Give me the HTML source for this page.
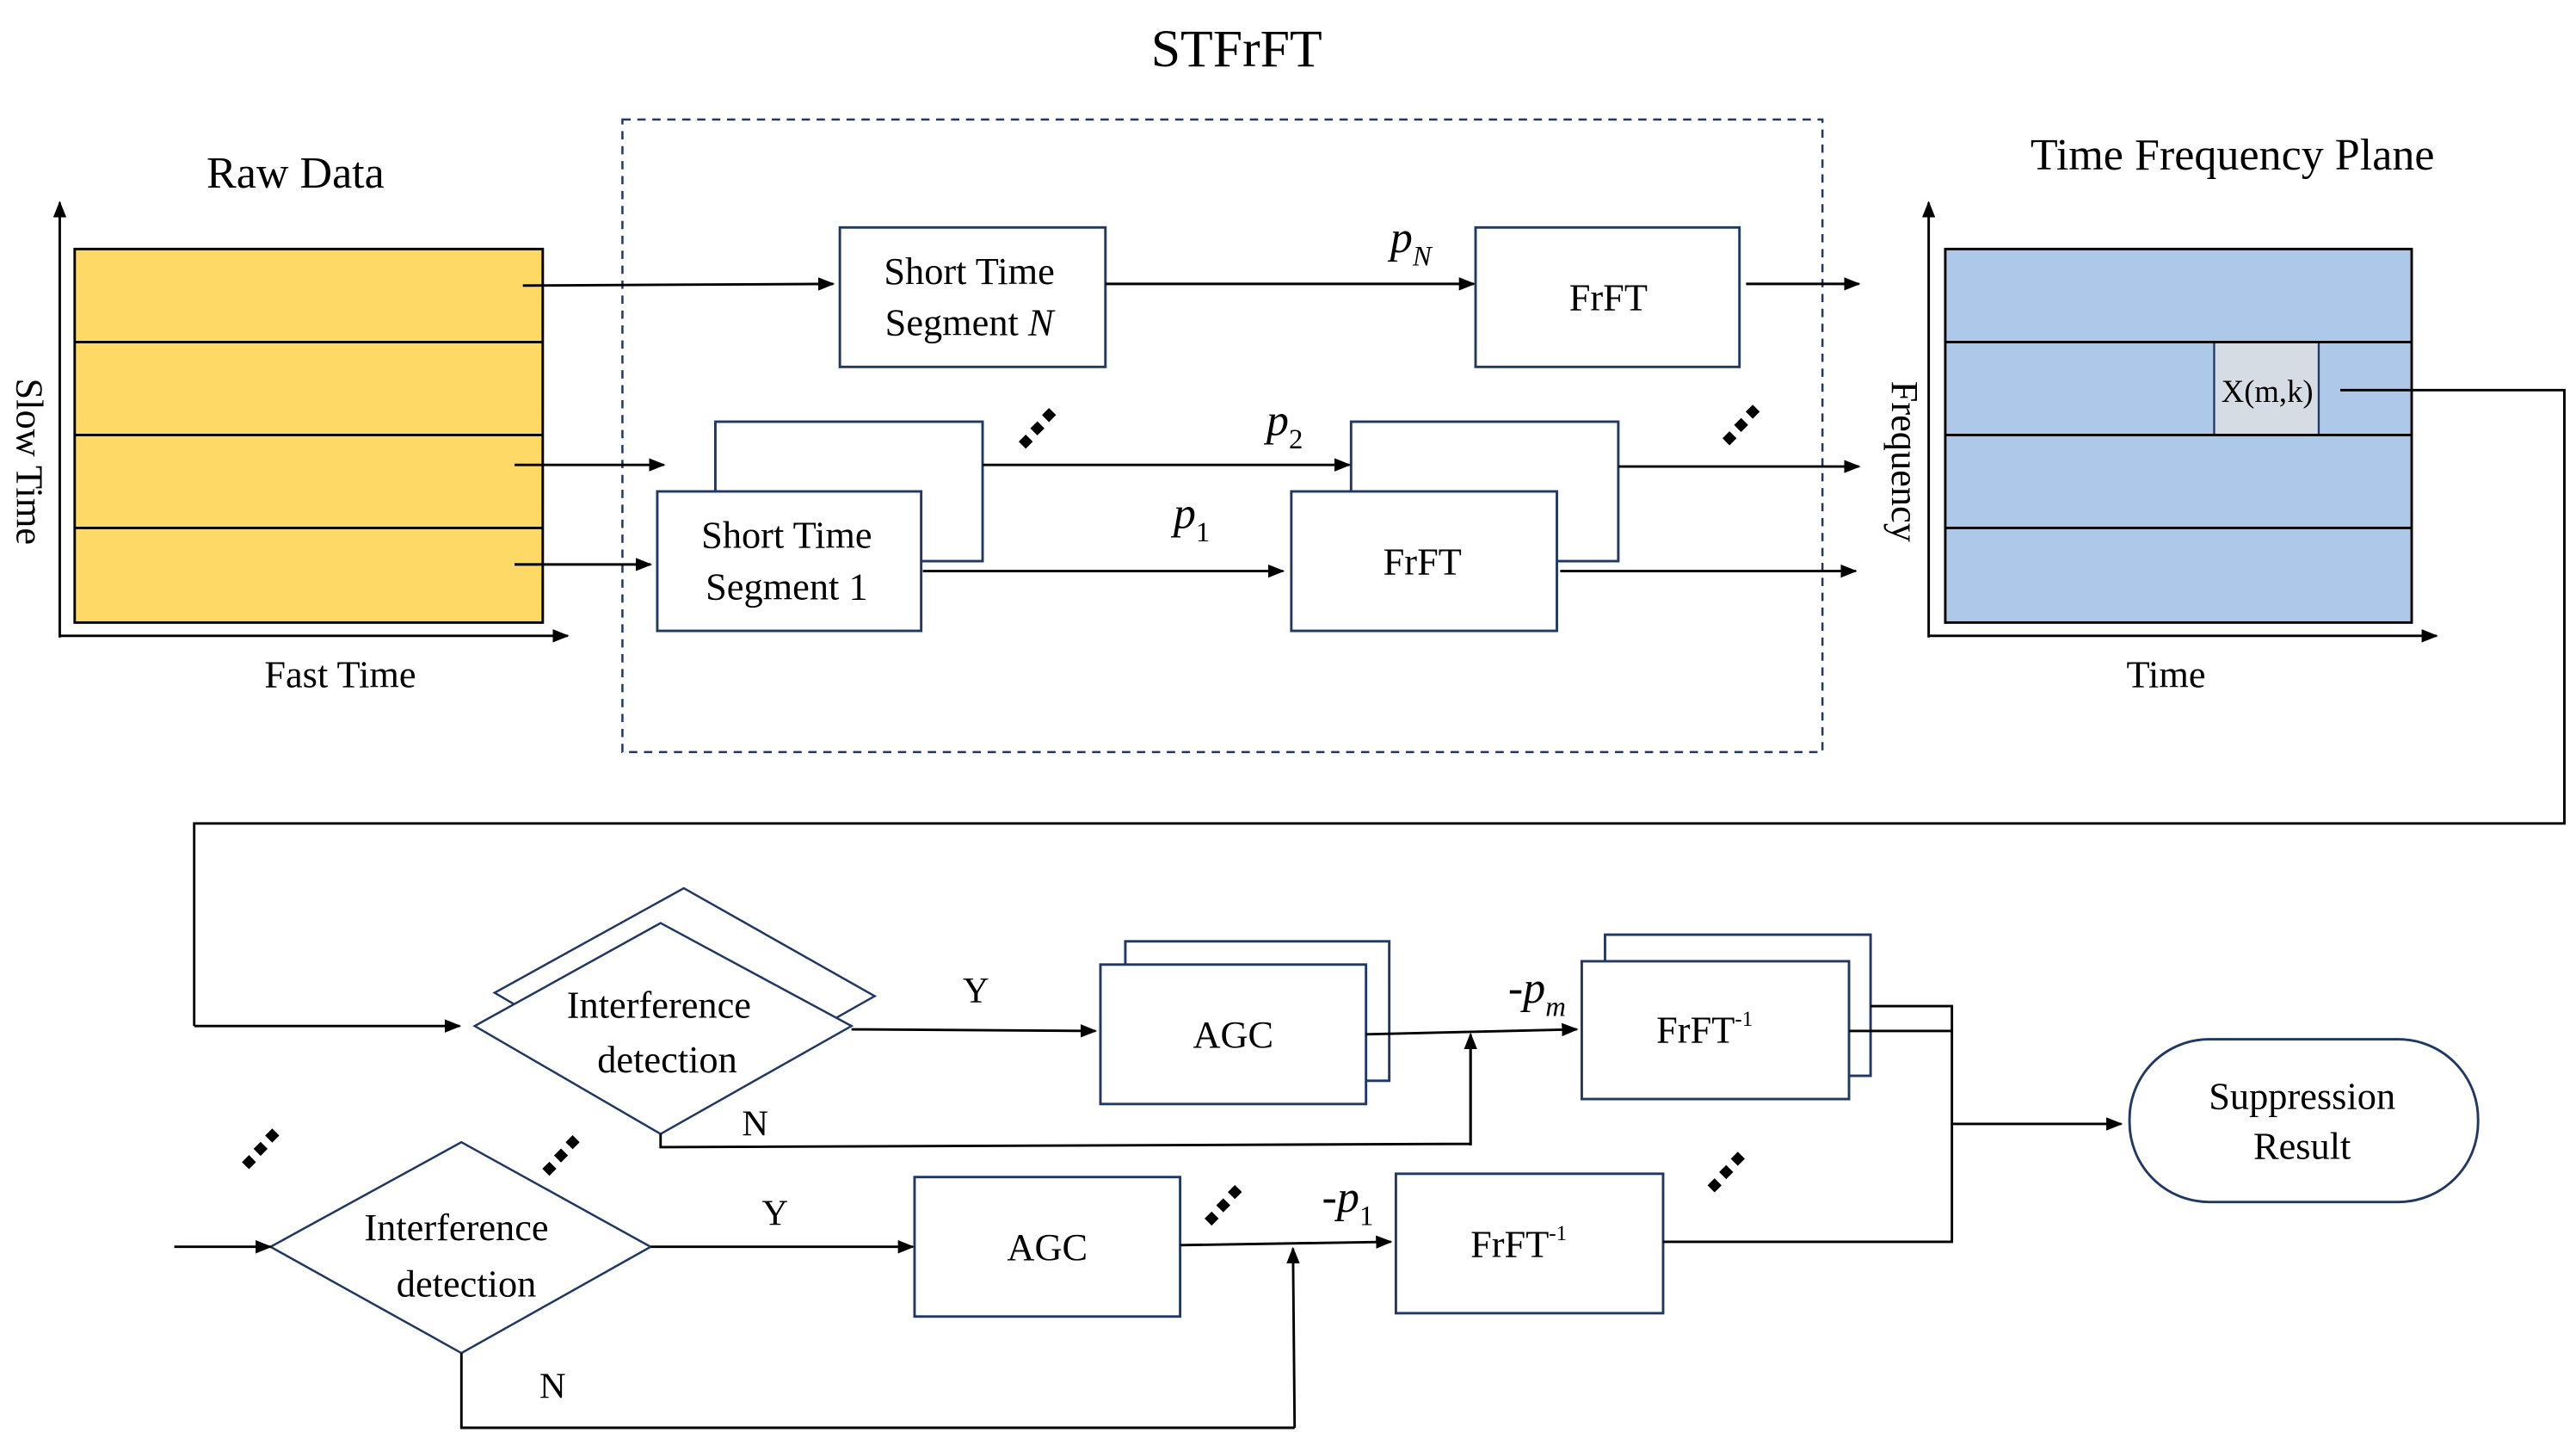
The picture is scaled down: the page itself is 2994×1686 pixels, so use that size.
<!DOCTYPE html>
<html><head><meta charset="utf-8"><style>
html,body{margin:0;padding:0;background:#fff;}
svg{display:block;font-family:"Liberation Serif",serif;}
svg text{font-family:"Liberation Serif",serif;fill:#000;}
</style></head><body>
<svg width="2994" height="1686" viewBox="0 0 1552 874" preserveAspectRatio="none" xmlns="http://www.w3.org/2000/svg" font-family="Liberation Serif, serif">
<defs>
<marker id="a" markerWidth="10" markerHeight="8" refX="9" refY="4" orient="auto" markerUnits="userSpaceOnUse"><path d="M0,0 L10,4 L0,8 z" fill="#000"/></marker>
<g id="dots"><rect x="-3" y="-3" width="6" height="6" transform="rotate(45)" fill="#000"/><rect x="-3" y="-3" width="6" height="6" transform="translate(7,-8) rotate(45)" fill="#000"/><rect x="-3" y="-3" width="6" height="6" transform="translate(14,-16) rotate(45)" fill="#000"/></g>
</defs>
<text x="745" y="40" font-size="32" text-anchor="middle">STFrFT</text>
<text x="178" y="113" font-size="27" text-anchor="middle">Raw Data</text>
<text x="1345" y="102" font-size="27" text-anchor="middle">Time Frequency Plane</text>
<rect x="375" y="72" width="723" height="381" fill="none" stroke="#1F3864" stroke-width="1.3" stroke-dasharray="5,4"/>
<rect x="45" y="150" width="282" height="225" fill="#FFD966" stroke="#000" stroke-width="1.5"/>
<g stroke="#000" stroke-width="1.5"><line x1="45" y1="206" x2="327" y2="206"/><line x1="45" y1="262" x2="327" y2="262"/><line x1="45" y1="318" x2="327" y2="318"/></g>
<g stroke="#000" stroke-width="1.5" fill="none">
<line x1="36" y1="384" x2="36" y2="122" marker-end="url(#a)"/>
<line x1="36" y1="383" x2="342" y2="383" marker-end="url(#a)"/>
<line x1="1162" y1="384" x2="1162" y2="122" marker-end="url(#a)"/>
<line x1="1162" y1="383" x2="1468" y2="383" marker-end="url(#a)"/>
</g>
<text x="0" y="0" font-size="23" text-anchor="middle" transform="translate(10,278) rotate(90)">Slow Time</text>
<text x="205" y="414" font-size="23" text-anchor="middle">Fast Time</text>
<rect x="1172" y="150" width="281" height="225" fill="#ADC8E8" stroke="#000" stroke-width="1.5"/>
<rect x="1334" y="206" width="63" height="56" fill="#D6DCE4" stroke="#1F3864" stroke-width="1.2"/>
<g stroke="#000" stroke-width="1.5"><line x1="1172" y1="206" x2="1453" y2="206"/><line x1="1172" y1="262" x2="1453" y2="262"/><line x1="1172" y1="318" x2="1453" y2="318"/></g>
<text x="1366" y="242" font-size="19" text-anchor="middle">X(m,k)</text>
<text x="0" y="0" font-size="23" text-anchor="middle" transform="translate(1140,278) rotate(90)">Frequency</text>
<text x="1305" y="414" font-size="23" text-anchor="middle">Time</text>
<g fill="#fff" stroke="#1F3864" stroke-width="1.5">
<rect x="506" y="137" width="160" height="84"/>
<rect x="889" y="137" width="159" height="84"/>
<rect x="431" y="254" width="161" height="84"/>
<rect x="396" y="296" width="159" height="84"/>
<rect x="814" y="254" width="161" height="84"/>
<rect x="778" y="296" width="160" height="84"/>
</g>
<text x="584" y="171" font-size="23" text-anchor="middle">Short Time</text>
<text x="584" y="202" font-size="23" text-anchor="middle">Segment <tspan font-style="italic">N</tspan></text>
<text x="969" y="187" font-size="23" text-anchor="middle">FrFT</text>
<text x="474" y="330" font-size="23" text-anchor="middle">Short Time</text>
<text x="474" y="361" font-size="23" text-anchor="middle">Segment 1</text>
<text x="857" y="346" font-size="23" text-anchor="middle">FrFT</text>
<g stroke="#000" stroke-width="1.5" fill="none">
<line x1="315" y1="172" x2="502" y2="171" marker-end="url(#a)"/>
<line x1="310" y1="280" x2="400" y2="280" marker-end="url(#a)"/>
<line x1="310" y1="340" x2="392" y2="340" marker-end="url(#a)"/>
<line x1="666" y1="171" x2="888" y2="171" marker-end="url(#a)"/>
<line x1="1052" y1="171" x2="1120" y2="171" marker-end="url(#a)"/>
<line x1="592" y1="280" x2="813" y2="280" marker-end="url(#a)"/>
<line x1="556" y1="344" x2="773" y2="344" marker-end="url(#a)"/>
<line x1="975" y1="281" x2="1120" y2="281" marker-end="url(#a)"/>
<line x1="940" y1="344" x2="1118" y2="344" marker-end="url(#a)"/>
</g>
<text x="850" y="152" font-size="27" font-style="italic" text-anchor="middle">p<tspan font-size="17" dy="8">N</tspan></text>
<text x="774" y="262" font-size="27" font-style="italic" text-anchor="middle">p<tspan font-size="17" dy="8" font-style="normal">2</tspan></text>
<text x="718" y="318" font-size="27" font-style="italic" text-anchor="middle">p<tspan font-size="17" dy="8" font-style="normal">1</tspan></text>
<use href="#dots" x="618" y="266"/>
<use href="#dots" x="1042" y="264"/>
<polyline points="1410,235 1545,235 1545,496 117,496 117,618" fill="none" stroke="#000" stroke-width="1.5"/>
<line x1="117" y1="618" x2="277" y2="618" stroke="#000" stroke-width="1.5" marker-end="url(#a)"/>
<g fill="#fff" stroke="#1F3864" stroke-width="1.3">
<polygon points="412,535 527,600 412,665 298,598"/>
<polygon points="398,556 513,618 398,683 286,618"/>
<polygon points="278,688 392,751 278,815 163,751"/>
</g>
<text x="397" y="613" font-size="23" text-anchor="middle">Interference</text>
<text x="402" y="646" font-size="23" text-anchor="middle">detection</text>
<text x="275" y="747" font-size="23" text-anchor="middle">Interference</text>
<text x="281" y="781" font-size="23" text-anchor="middle">detection</text>
<g fill="#fff" stroke="#1F3864" stroke-width="1.5">
<rect x="678" y="567" width="159" height="84"/>
<rect x="663" y="581" width="160" height="84"/>
<rect x="967" y="563" width="160" height="85"/>
<rect x="953" y="579" width="161" height="83"/>
<rect x="551" y="709" width="160" height="84"/>
<rect x="841" y="707" width="161" height="84"/>
<rect x="1283" y="626" width="210" height="98" rx="48" ry="48"/>
</g>
<text x="743" y="631" font-size="23" text-anchor="middle">AGC</text>
<text x="631" y="759" font-size="23" text-anchor="middle">AGC</text>
<text x="1027" y="628" font-size="23" text-anchor="middle">FrFT<tspan font-size="13" dy="-10">-1</tspan></text>
<text x="915" y="757" font-size="23" text-anchor="middle">FrFT<tspan font-size="13" dy="-10">-1</tspan></text>
<text x="1387" y="668" font-size="23" text-anchor="middle">Suppression</text>
<text x="1387" y="698" font-size="23" text-anchor="middle">Result</text>
<text x="588" y="604" font-size="22" text-anchor="middle">Y</text>
<text x="467" y="738" font-size="22" text-anchor="middle">Y</text>
<text x="455" y="684" font-size="22" text-anchor="middle">N</text>
<text x="333" y="842" font-size="22" text-anchor="middle">N</text>
<text x="926" y="604" font-size="27" font-style="italic" text-anchor="middle">-p<tspan font-size="17" dy="8">m</tspan></text>
<text x="812" y="730" font-size="27" font-style="italic" text-anchor="middle">-p<tspan font-size="17" dy="8" font-style="normal">1</tspan></text>
<g stroke="#000" stroke-width="1.5" fill="none">
<line x1="513" y1="620" x2="660" y2="621" marker-end="url(#a)"/>
<line x1="823" y1="623" x2="950" y2="620" marker-end="url(#a)"/>
<polyline points="398,683 398,691 886,689 886,624"/>
<line x1="886" y1="690" x2="886" y2="623" marker-end="url(#a)"/>
<polyline points="1127,606 1176,606 1176,748 1002,748"/>
<line x1="1114" y1="621" x2="1176" y2="621"/>
<line x1="1176" y1="677" x2="1278" y2="677" marker-end="url(#a)"/>
<line x1="105" y1="751" x2="163" y2="751" marker-end="url(#a)"/>
<line x1="392" y1="751" x2="550" y2="751" marker-end="url(#a)"/>
<line x1="711" y1="750" x2="838" y2="748" marker-end="url(#a)"/>
<polyline points="278,815 278,860 780,860"/>
<line x1="780" y1="860" x2="779" y2="752" marker-end="url(#a)"/>
</g>
<use href="#dots" x="150" y="700"/>
<use href="#dots" x="331" y="704"/>
<use href="#dots" x="730" y="734"/>
<use href="#dots" x="1033" y="714"/>
</svg>
</body></html>
